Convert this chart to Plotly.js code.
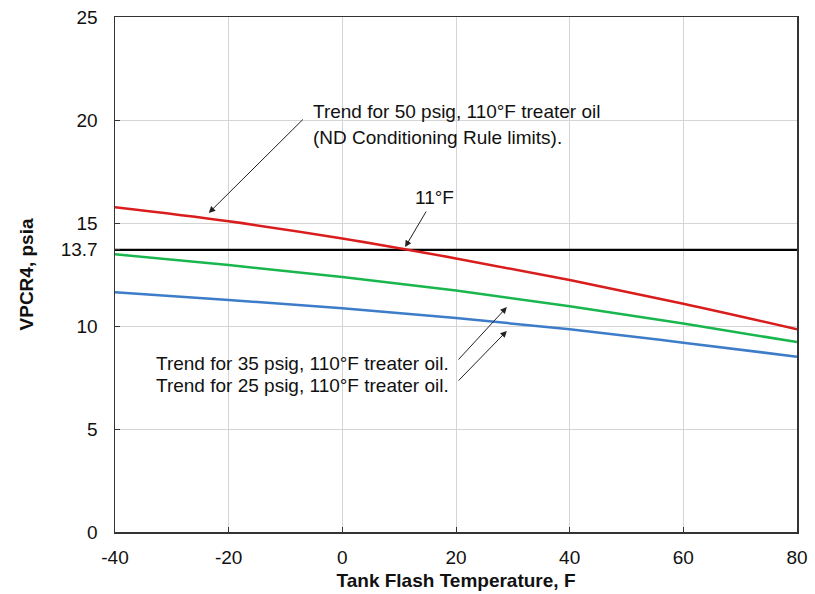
<!DOCTYPE html>
<html>
<head>
<meta charset="utf-8">
<script src="https://cdn.plot.ly/plotly-3.0.1.min.js"></script>
<style>html,body{margin:0;padding:0;background:#fff;}#chart{width:815px;height:594px;}</style>
</head>
<body>
<div id="chart"></div>
<script>
// Data
const temperatureF = [-40, -20, 0, 20, 40, 60, 80];
const vpcr50psig = [15.76, 15.08, 14.25, 13.28, 12.23, 11.08, 9.84];
const vpcr35psig = [13.48, 12.96, 12.38, 11.72, 10.96, 10.12, 9.22];
const vpcr25psig = [11.64, 11.26, 10.86, 10.39, 9.84, 9.19, 8.51];
const limitX = [-40, 80];
const limitY = [13.7, 13.7];
const yTickVals = [0, 5, 10, 13.7, 15, 20, 25];
const yTickText = ['0', '5', '10', '13.7', '15', '20', '25'];
const xTickVals = [-40, -20, 0, 20, 40, 60, 80];

const FONT = 'Liberation Sans, Arial, sans-serif';

const traces = [
  {x: limitX, y: limitY, mode: 'lines', line: {color: '#000000', width: 2.2}, name: '13.7 limit'},
  {x: temperatureF, y: vpcr50psig, mode: 'lines', line: {color: '#d91c1c', width: 2.5, shape: 'spline'}, name: '50 psig'},
  {x: temperatureF, y: vpcr35psig, mode: 'lines', line: {color: '#18b64c', width: 2.5, shape: 'spline'}, name: '35 psig'},
  {x: temperatureF, y: vpcr25psig, mode: 'lines', line: {color: '#3d7cc9', width: 2.5, shape: 'spline'}, name: '25 psig'}
];

function txt(text, x, y, xanchor) {
  return {text: text, x: x, y: y, xref: 'x', yref: 'y', xanchor: xanchor, yanchor: 'middle',
          showarrow: false, font: {family: FONT, size: 19, color: '#111'}};
}
function arrow(tx, ty, hx, hy) {
  return {text: '', x: hx, y: hy, ax: tx, ay: ty, xref: 'x', yref: 'y', axref: 'x', ayref: 'y',
          showarrow: true, arrowhead: 2, arrowsize: 1.3, arrowwidth: 1, arrowcolor: '#222', standoff: 0, startstandoff: 0};
}

const layout = {
  width: 815, height: 594,
  margin: {l: 115, r: 18, t: 17, b: 62},
  paper_bgcolor: '#ffffff', plot_bgcolor: '#ffffff',
  showlegend: false,
  font: {family: FONT, size: 19, color: '#111'},
  xaxis: {
    range: [-40, 80], tickvals: xTickVals, ticktext: xTickVals.map(String),
    showgrid: true, gridcolor: '#d4d4d4', gridwidth: 1,
    zeroline: false, showline: true, linecolor: '#333', linewidth: 1.5, mirror: true,
    ticks: 'inside', ticklen: 5, tickcolor: '#333',
    tickfont: {family: FONT, size: 19, color: '#111'},
    ticklabelstandoff: 8,
    title: {text: '<b>Tank Flash Temperature, F</b>', font: {family: FONT, size: 19, color: '#111'}, standoff: 6}
  },
  yaxis: {
    range: [0, 25], tickvals: yTickVals, ticktext: yTickText,
    showgrid: true, gridcolor: '#d4d4d4', gridwidth: 1,
    zeroline: false, showline: true, linecolor: '#333', linewidth: 1.5, mirror: true,
    ticks: 'inside', ticklen: 5, tickcolor: '#333',
    tickfont: {family: FONT, size: 19, color: '#111'},
    ticklabelstandoff: 12,
    title: {text: '<b>VPCR4, psia</b>', font: {family: FONT, size: 19, color: '#111'}, standoff: 22}
  },
  annotations: [
    txt('Trend for 50 psig, 110°F treater oil', -5.44, 20.39, 'left'),
    txt('(ND Conditioning Rule limits).', -5.44, 19.17, 'left'),
    arrow(-6.67, 20.10, -23.5, 15.49),
    txt('11°F', 16.3, 16.26, 'center'),
    arrow(14.9, 15.63, 11.05, 13.83),
    txt('Trend for 35 psig, 110°F treater oil.', 19.1, 8.16, 'right'),
    txt('Trend for 25 psig, 110°F treater oil.', 19.1, 7.09, 'right'),
    arrow(20.2, 8.30, 28.95, 10.92),
    arrow(20.2, 7.28, 28.95, 9.76)
  ]
};

Plotly.newPlot('chart', traces, layout, {staticPlot: true, displayModeBar: false});
</script>
</body>
</html>
